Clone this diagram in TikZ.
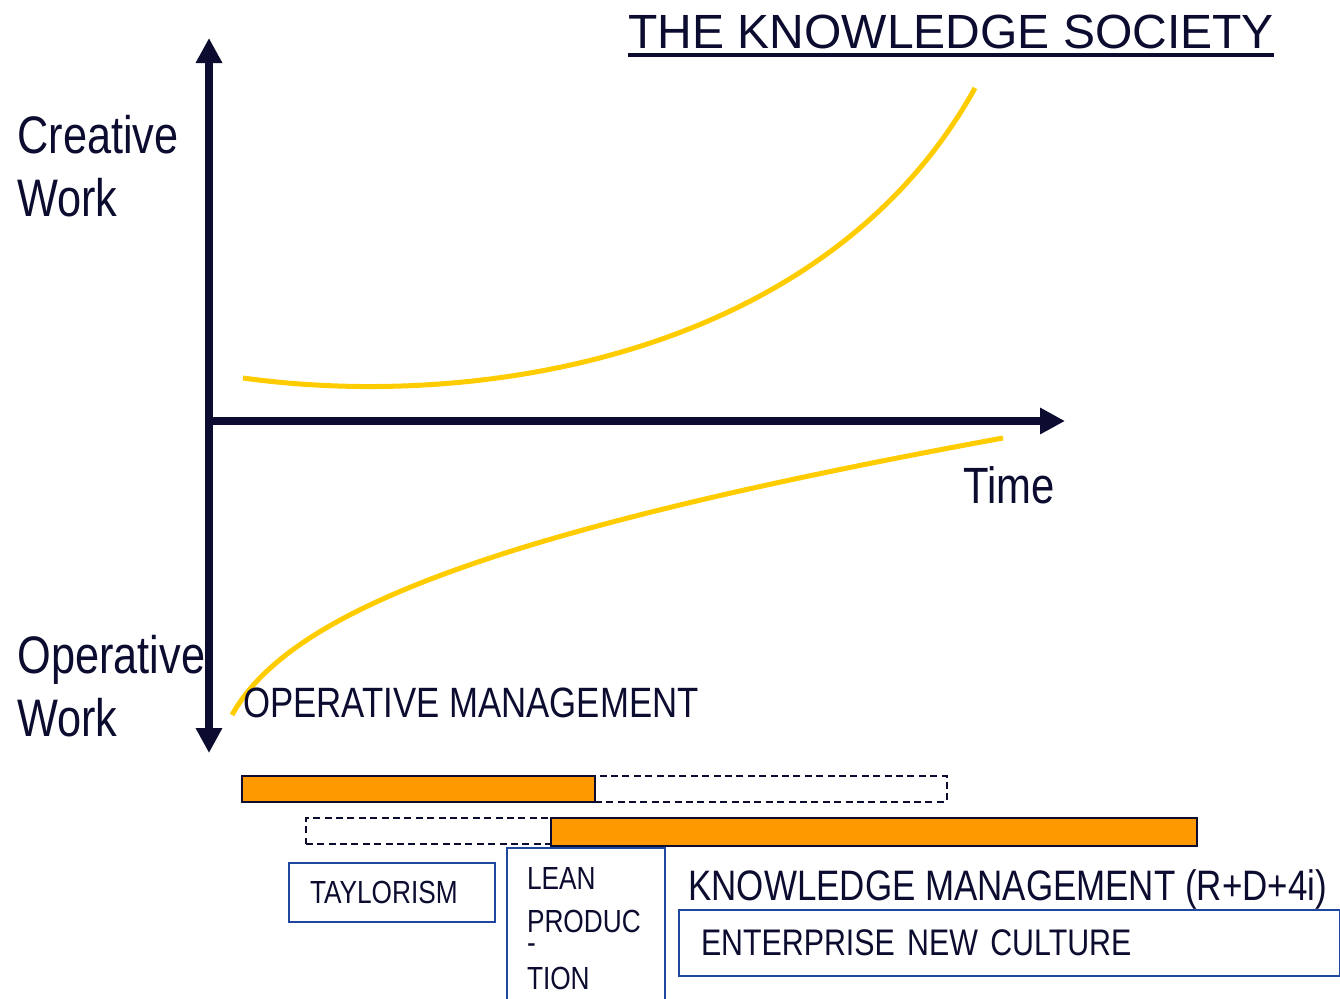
\documentclass[tikz,border=0pt]{standalone}
\usepackage{fontspec}
\setmainfont{Liberation Sans}
\newfontfamily\narrowfont[FakeStretch=0.82]{Liberation Sans}
\usetikzlibrary{arrows.meta}
\definecolor{navy}{RGB}{12,12,48}
\definecolor{boxblue}{RGB}{30,72,160}
\definecolor{gold}{RGB}{255,204,0}
\definecolor{amber}{RGB}{255,153,0}

\begin{document}
\begin{tikzpicture}[
			x=0.5pt,
			y=-0.5pt,
			>={Triangle[length=12.5pt,width=12.5pt]},
			every node/.style={
				inner sep=0pt,
				text=navy,
				font=\narrowfont,
			},
			axis/.style={
				draw=navy,
				line width=4.25pt,
			},
			trend/.style={
				draw=gold,
				line width=2.5pt,
			},
			bar/.style={
				rectangle,
				anchor=north west,
				draw=navy,
				line width=1pt,
				fill=amber,
				minimum height=13pt,
			},
			span/.style={
				rectangle,
				anchor=north west,
				draw=navy,
				line width=0.8pt,
				dash pattern=on 3.5pt off 2.2pt,
				minimum height=13pt,
			},
			era/.style={
				rectangle,
				anchor=north west,
				draw=boxblue,
				line width=1pt,
				align=left,
				inner xsep=10.5pt,
			}]
		\path[use as bounding box,fill=white] (0,0) rectangle (1340,998);

		\node[anchor=base west,font=\rmfamily\fontsize{24}{29}\selectfont](title) at (628,48) {THE KNOWLEDGE SOCIETY};
		\draw[navy,line width=1.6pt] ([yshift=-3.5pt]title.base west) -- ([yshift=-3.5pt]title.base east);

		\coordinate(top)    at (209,38);
		\coordinate(bottom) at (209,753);
		\coordinate(origin) at (205,421);
		\coordinate(right)  at (1065,421);
		\draw[axis,<->] (top) -- (bottom);
		\draw[axis,->] (origin) -- (right);

		\draw[trend] (243,378) .. controls (490,412) and (830,350) .. (975,88);
		\draw[trend] (232,715) .. controls (290,610) and (500,530) .. (1003,438);

		\node[anchor=north west,align=left,font=\narrowfont\fontsize{26.4}{31.5}\selectfont](creative)  at (17,115) {Creative\\Work};
		\node[anchor=north west,align=left,font=\narrowfont\fontsize{26.4}{31.5}\selectfont](operative) at (17,635) {Operative\\Work};
		\node[anchor=base west,font=\narrowfont\fontsize{25.5}{30}\selectfont](time)   at (963,503) {Time};
		\node[anchor=base west,font=\narrowfont\fontsize{21.2}{26}\selectfont](opmgmt) at (243,717) {OPERATIVE MANAGEMENT};
		\node[anchor=base west,font=\narrowfont\fontsize{21.3}{26}\selectfont](kmgmt)  at (688,900) {KNOWLEDGE MANAGEMENT (R+D+4i)};

		\node[span,minimum width=176pt](taylorspan) at (594,775) {};
		\node[bar,minimum width=176.5pt](taylorbar) at (241,775) {};
		\node[span,minimum width=122.5pt](leanspan) at (305,817) {};
		\node[bar,minimum width=323pt,minimum height=14pt](leanbar) at (550,817) {};

		\node[era,minimum height=29.5pt,text width=82pt,font=\narrowfont\fontsize{16}{19}\selectfont](taylorism) at (288,862) {TAYLORISM};
		\node[era,minimum height=81pt,text width=59pt,inner xsep=10pt,font=\narrowfont\fontsize{16}{21.3}\selectfont](lean) at (506,847) {LEAN\\PRODUC\\[-11pt]-\\[-3pt]TION};
		\node[era,minimum height=33pt,text width=308.5pt,inner xsep=11pt,font=\narrowfont\fontsize{18.5}{22}\selectfont](culture) at (678,909) {ENTERPRISE NEW CULTURE};
	\end{tikzpicture}
\end{document}
